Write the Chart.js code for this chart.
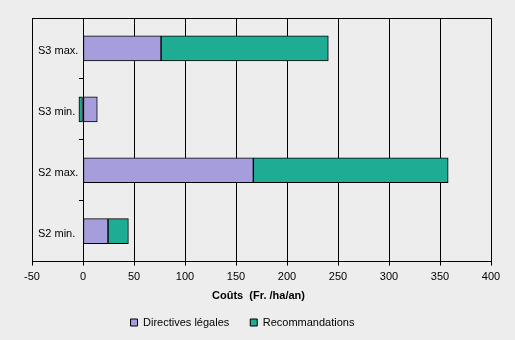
<!DOCTYPE html>
<html>
<head>
<meta charset="utf-8">
<script src="https://cdn.jsdelivr.net/npm/chart.js@4/dist/chart.umd.min.js"></script>
<style>
    html, body { margin: 0; padding: 0; background: #EDEDED; }
    canvas { display: block; }
</style>
</head>
<body>
<canvas id="chart" width="515" height="340"></canvas>
<script>
var categories = ['S3 max.', 'S3 min.', 'S2 max.', 'S2 min.'];
var directives = [76.5, 14, 167, 24.5];
var recommandations = [164, -4, 191, 20];
var xMin = -50;
var xMax = 400;
var xStep = 50;
var axisTitle = 'Coûts  (Fr. /ha/an)';

Chart.defaults.font.family = "'Liberation Sans', Arial, sans-serif";
Chart.defaults.font.size = 11;
Chart.defaults.color = '#000';

// legend sits a bit left of centre in the original
var legendNudge = {
    id: 'legendNudge',
    afterLayout: function (chart) {
        chart.legend.left -= 16;
        chart.legend.right -= 16;
    }
};

var ctx = document.getElementById('chart').getContext('2d');
new Chart(ctx, {
    type: 'bar',
    data: {
        labels: categories,
        datasets: [{
            label: 'Directives légales',
            data: directives,
            backgroundColor: '#A69EDC',
            borderColor: '#000',
            borderWidth: 1,
            borderSkipped: false
        }, {
            label: 'Recommandations',
            data: recommandations,
            backgroundColor: '#1EAC94',
            borderColor: '#000',
            borderWidth: 1,
            borderSkipped: false
        }]
    },
    options: {
        indexAxis: 'y',
        responsive: false,
        animation: false,
        barThickness: 25,
        layout: {
            padding: { top: 18, left: 26, right: 24, bottom: 2 }
        },
        scales: {
            x: {
                type: 'linear',
                stacked: true,
                min: xMin,
                max: xMax,
                ticks: { stepSize: xStep, padding: 5, color: '#000' },
                grid: { color: '#000', tickLength: 4 },
                border: { color: '#000' }
            },
            y: {
                type: 'category',
                stacked: true,
                offset: true,
                ticks: { mirror: true, padding: 6, labelOffset: 3, color: '#000' },
                grid: {
                    offset: true,
                    drawTicks: false,
                    color: function (c) {
                        return (c.index === 0 || c.index === categories.length) ? '#000' : 'rgba(0,0,0,0)';
                    }
                },
                border: { color: '#000' },
                afterFit: function (scale) {
                    scale.width = 6;
                }
            },
            y0: {
                type: 'category',
                axis: 'y',
                position: { x: 0 },
                offset: true,
                ticks: { display: false },
                grid: { offset: true, drawOnChartArea: false, tickLength: 4, color: '#000' },
                border: { display: false },
                afterFit: function (scale) {
                    scale.width = 0;
                }
            }
        },
        plugins: {
            title: {
                display: true,
                text: axisTitle,
                position: 'bottom',
                weight: 500,
                color: '#000',
                font: { size: 11, weight: 'bold' },
                padding: { top: 1, bottom: -7 }
            },
            legend: {
                position: 'bottom',
                maxHeight: 42,
                labels: {
                    boxWidth: 7,
                    boxHeight: 7,
                    padding: 21,
                    color: '#000'
                }
            },
            tooltip: { enabled: false }
        }
    },
    plugins: [legendNudge]
});
</script>
</body>
</html>
